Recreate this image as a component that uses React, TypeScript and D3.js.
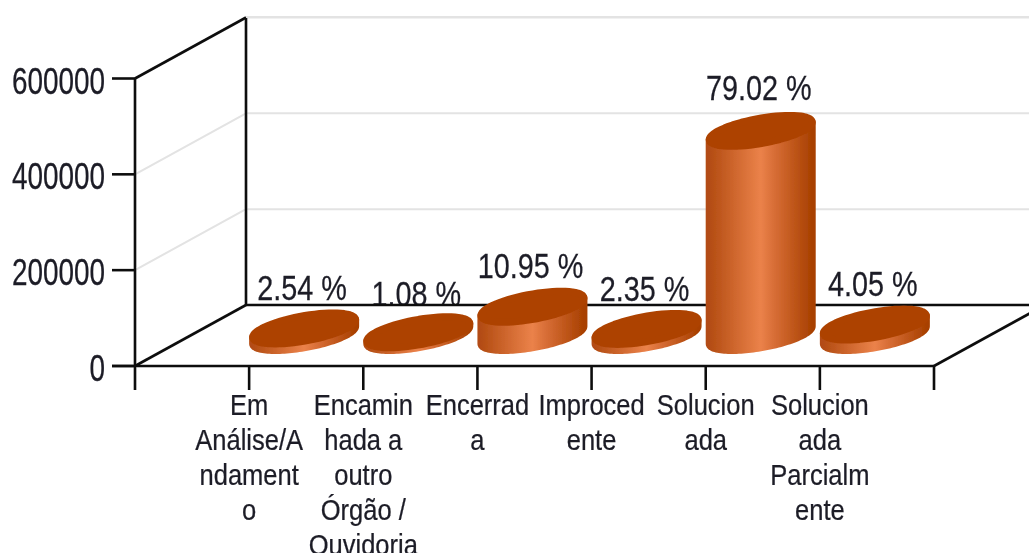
import React from "react";
import * as d3 from "d3";

const categories = [
  ["Em", "Análise/A", "ndament", "o"],
  ["Encamin", "hada a", "outro", "Órgão /", "Ouvidoria"],
  ["Encerrad", "a"],
  ["Improced", "ente"],
  ["Solucion", "ada"],
  ["Solucion", "ada", "Parcialm", "ente"],
];
const seriesValues = [13700, 5800, 59000, 12700, 426000, 21800];
const percentLabels = ["2.54 %", "1.08 %", "10.95 %", "2.35 %", "79.02 %", "4.05 %"];
const yTicks = [0, 200000, 400000, 600000];

const W = 1029, H = 553;
const frontLeft = 135, frontRight = 934, frontBottom = 366;
const depthX = 111, depthY = -61;
const y = d3.scaleLinear().domain([0, 600000]).range([frontBottom, 78.5]);
const x = d3.scaleLinear().domain([0, 7]).range([frontLeft, frontRight]);

const line = d3.line<[number, number]>().x(d => d[0]).y(d => d[1]);
const range = (from: number, to: number, n = 64) => d3.range(n + 1).map(i => from + (to - from) * i / n);

// Inner ellipse; a round stroke of capR around it rounds the ends as in the reference.
const capR = 3.5;
const rx = 55 - capR, hdy = 19 - capR, hdx = 29, a = Math.sqrt(rx * rx - hdx * hdx);
const ell = (cx: number, cy: number, t: number): [number, number] => [
  cx + a * Math.cos(t) + hdx * Math.sin(t),
  cy - hdy * Math.sin(t),
];
const tRight = Math.atan2(hdx, a);
const topPath = (cx: number, cy: number) => line(range(0, Math.PI * 2).map(t => ell(cx, cy, t)))! + "Z";
const sidePath = (cx: number, top: number, base: number) => {
  const lower = range(tRight + Math.PI, tRight + 2 * Math.PI).map(t => ell(cx, base, t));
  const l = ell(cx, top, tRight + Math.PI), r = ell(cx, top, tRight);
  return line([l, ...lower, r])! + "Z";
};

const T = ({ px, py, fs, sx, anchor, children }: any) => (
  <text transform={`translate(${px},${py}) scale(${sx},1)`} fontSize={fs} textAnchor={anchor}
    fontFamily="'Liberation Sans', Arial, sans-serif" fill="#1c1c26" stroke="#1c1c26" strokeWidth={0.25}>{children}</text>
);

export default function App() {
  const barCx = (i: number) => x(i + 1) + 55;
  const baseY = 335;
  const barTop = (v: number) => baseY - (frontBottom - y(v));
  const labelY = (v: number, i: number) => barTop(v) - 19 - 9 - 3 * (v / 426000) + (i === 1 ? 2 : 0);
  return (
    <svg width={W} height={H} viewBox={`0 0 ${W} ${H}`} style={{ position: "absolute", left: 0, top: 0, background: "#fff" }}>
      <defs>
        <linearGradient id="cyl" x1="0" x2="1" y1="0" y2="0">
          <stop offset="0" stopColor="#b34c12" />
          <stop offset="0.5" stopColor="#eb824a" />
          <stop offset="0.62" stopColor="#d96f38" />
          <stop offset="1" stopColor="#a84000" />
        </linearGradient>
        <filter id="soft" x="-5%" y="-5%" width="110%" height="110%">
          <feGaussianBlur stdDeviation="0.7" />
        </filter>
      </defs>
      <g filter="url(#soft)">
        {yTicks.slice(1).map(t => (
          <g key={t} stroke="#e3e3e3" strokeWidth={2} fill="none">
            <line x1={frontLeft} y1={y(t)} x2={frontLeft + depthX} y2={y(t) + depthY} />
            <line x1={frontLeft + depthX} y1={y(t) + depthY} x2={W} y2={y(t) + depthY} />
          </g>
        ))}
        {percentLabels.map((l, i) => (
          <T key={i} px={barCx(i) - 2} py={labelY(seriesValues[i], i)} fs={36} sx={0.8} anchor="middle">{l}</T>
        ))}
        <polygon fill="#fff" points={[[frontLeft, frontBottom], [frontLeft + depthX, frontBottom + depthY], [W, frontBottom + depthY], [W, frontBottom], [frontLeft, frontBottom]].join(" ")} />
        <g stroke="#111" strokeWidth={2.6} fill="none">
          <line x1={frontLeft} y1={y(600000)} x2={frontLeft} y2={390} />
          <line x1={frontLeft + depthX} y1={y(600000) + depthY} x2={frontLeft + depthX} y2={frontBottom + depthY} />
          <line x1={frontLeft} y1={y(600000)} x2={frontLeft + depthX} y2={y(600000) + depthY} />
          <line x1={frontLeft} y1={frontBottom} x2={frontLeft + depthX} y2={frontBottom + depthY} />
          <line x1={frontLeft + depthX} y1={frontBottom + depthY} x2={W} y2={frontBottom + depthY} />
          <line x1={112} y1={frontBottom} x2={frontRight} y2={frontBottom} />
          <line x1={frontRight} y1={frontBottom} x2={frontRight + depthX} y2={frontBottom + depthY} />
          {yTicks.map(t => <line key={t} x1={112} x2={frontLeft} y1={y(t)} y2={y(t)} />)}
          {d3.range(1, 8).map(i => <line key={i} x1={x(i)} x2={x(i)} y1={frontBottom} y2={390} />)}
        </g>
        <line x1={frontLeft + depthX} y1={17} x2={W} y2={17} stroke="#e3e3e3" strokeWidth={2} />
        {seriesValues.map((v, i) => {
          const cx = barCx(i), top = barTop(v);
          return (
            <g key={i}>
              <path d={sidePath(cx, top, baseY)} fill="url(#cyl)" stroke="url(#cyl)" strokeWidth={capR * 2} strokeLinejoin="round" />
              <path d={topPath(cx, top)} fill="#ad4300" stroke="#ad4300" strokeWidth={capR * 2} strokeLinejoin="round" />
            </g>
          );
        })}
        {yTicks.map(t => (
          <T key={t} px={105} py={y(t) + 15} fs={36} sx={0.775} anchor="end">{t}</T>
        ))}
        {categories.map((lines, i) => lines.map((s, j) => (
          <T key={s + j} px={x(i + 1)} py={415 + j * 35} fs={29} sx={0.88} anchor="middle">{s}</T>
        )))}
      </g>
    </svg>
  );
}
